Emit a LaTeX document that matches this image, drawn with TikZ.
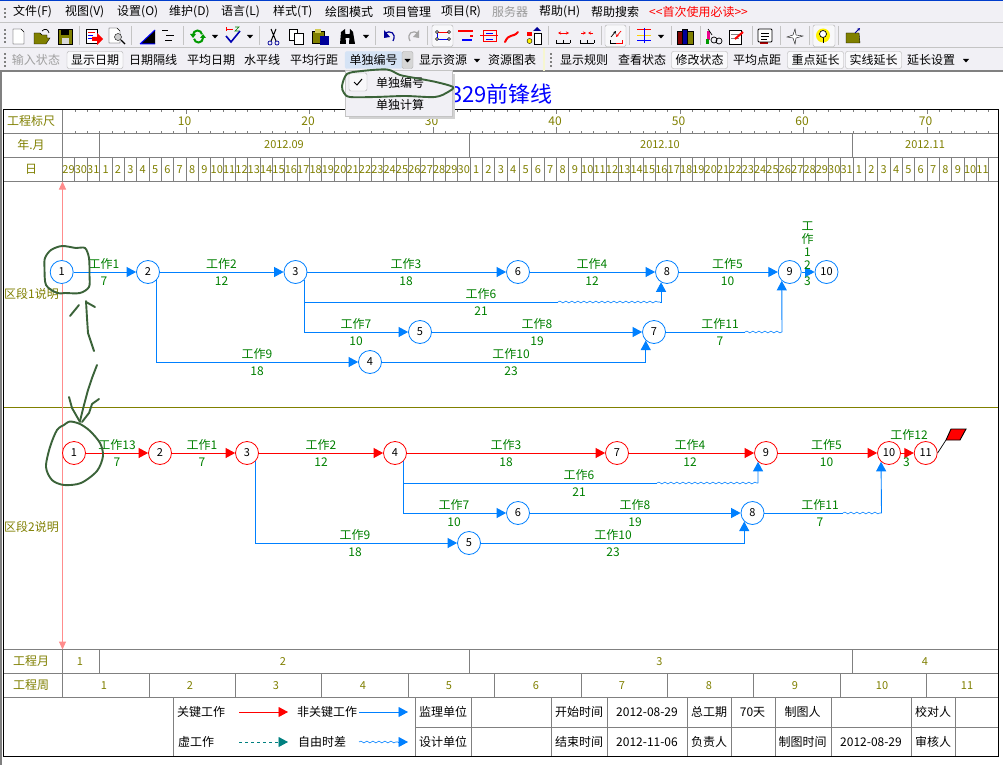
\documentclass[tikz,border=0pt]{standalone}
\usepackage{fontspec}
\setmainfont{Noto Sans CJK SC}
\usetikzlibrary{arrows.meta,decorations.pathmorphing}

\definecolor{barbg}{HTML}{F1F0F5}
\definecolor{barline}{HTML}{C4C4C4}
\definecolor{btnline}{HTML}{AEAEAE}
\definecolor{gridgray}{HTML}{808080}
\definecolor{scaleolive}{HTML}{808000}
\definecolor{linkblue}{HTML}{0080FF}
\definecolor{workgreen}{HTML}{008000}
\definecolor{dummyteal}{HTML}{008080}
\definecolor{pinkaxis}{HTML}{FF8C8C}
\definecolor{handink}{HTML}{3B6339}
\definecolor{hoverblue}{HTML}{D5E3F5}

\tikzset{
  txt/.style={inner sep=0pt,font=\fontsize{12}{14}\selectfont},
  bartext/.style={txt,text=black},
  barbtn/.style={txt,draw=btnline,fill=white!60!barbg,rounded corners=2pt,minimum height=17pt,minimum width=56pt},
  scaletext/.style={txt,text=scaleolive},
  daytext/.style={inner sep=0pt,text=scaleolive,font=\fontsize{11}{13}\selectfont},
  worktext/.style={txt,text=workgreen},
  foottext/.style={txt,text=black},
  grid/.style={draw=gridgray,line width=0.8pt},
  bluenum/.style={circle,draw=linkblue,fill=white,line width=0.8pt,minimum size=23pt,inner sep=0pt,font=\fontsize{11}{13}\selectfont},
  rednum/.style={bluenum,draw=red},
  bluelink/.style={draw=linkblue,line width=0.9pt},
  bluearrow/.style={bluelink,->},
  redarrow/.style={draw=red,line width=0.9pt,->},
  wave/.style={draw=linkblue,line width=0.6pt,decorate,decoration={snake,amplitude=0.9pt,segment length=6pt}},
  ink/.style={draw=handink,line width=1.9pt,line cap=round,line join=round},
}

\begin{document}
\begin{tikzpicture}[x=1pt,y=-1pt,>={Triangle[length=9.5pt,width=10pt]}]
  \useasboundingbox (0,0) rectangle (1003,765);
  \fill[white] (0,0) rectangle (1003,765);

  % window bars
  \fill[barbg] (0,1) rectangle (1003,71);
  \fill[blue!70!cyan!80!black] (0,0) rectangle (1003,1.5);
  \draw[barline,line width=1pt] (0,22.5) -- (1003,22.5) (0,47.5) -- (1003,47.5);
  \draw[gridgray,line width=1.2pt] (0,71) -- (1003,71);
  \draw[gridgray,line width=1.4pt] (1,71) -- (1,765);
  \foreach \y in {8,12,16} \fill[gridgray] (4,\y) rectangle +(2,2);
  \foreach \y in {29,33,37,41} \fill[gridgray] (4,\y) rectangle +(2,2);
  \foreach \y in {53,57,61,65} \fill[gridgray] (4,\y) rectangle +(2,2);
  \foreach \y in {53,57,61,65} \fill[gridgray] (550,\y) rectangle +(2,2);
  \fill[barline!50!yellow!30!white] (543,48) rectangle (545,71);

  % menu bar
  \foreach \x/\t [count=\i] in {13/文件(F),65/视图(V),117/设置(O),169/维护(D),221/语言(L),273/样式(T),325/绘图模式,383/项目管理,441/项目(R),539/帮助(H),591/帮助搜索}
    \node[bartext,anchor=west] (menu\i) at (\x,12) {\t};
  \node[bartext,anchor=west,text=gray!80] (menuserver) at (492,12) {服务器};
  \node[bartext,anchor=west,text=red] (menufirst) at (649,12) {<{}<首次使用必读>{}>};

  % toolbar buttons
  \foreach \xa/\xb in {432/453,605/626,813/835}
    \draw[btnline,fill=white!50!barbg,rounded corners=2pt] (\xa,25) rectangle (\xb,46.5);
  \foreach \x in {79,131,183,259,375,427,548,601,629,671,700,752,780,809,838}
    \draw[barline,line width=1pt] (\x,26) -- (\x,45);
  \foreach \x in {215,250,366,661} \fill (\x-3,35) -- (\x+3,35) -- (\x,38.5) -- cycle;

  % new, open, save
  \draw[fill=white] (13,29) -- (21,29) -- (24,32) -- (24,44) -- (13,44) -- cycle;
  \draw[fill=scaleolive] (34,33) -- (40,33) -- (42,35) -- (47,35) -- (47,38) -- (50,38) -- (46,44) -- (34,44) -- cycle;
  \draw[line width=0.7pt] (42,31) .. controls (45,28) and (48,29) .. (49,33);
  \draw[fill=scaleolive] (58,29) rectangle (72,44);
  \fill[black] (61,29) rectangle (69,35);
  \fill[white!70!gray] (62,38) rectangle (69,44);
  % report, preview
  \draw[fill=white] (86,29) rectangle (97,43);
  \draw[red] (88,32) -- (95,32);
  \draw[blue] (88,35) -- (93,35) (88,38) -- (93,38);
  \fill[red] (92,37) -- (97,37) -- (97,33) -- (103,39) -- (97,45) -- (97,41) -- (92,41) -- cycle;
  \draw[fill=white] (109,28) -- (117,28) -- (120,31) -- (120,43) -- (109,43) -- cycle;
  \draw[fill=gray!40] (118,37) circle (3.5);
  \draw[line width=1.4pt] (121,40) -- (125,44);
  % triangle, lines
  \fill[black] (155,30) -- (155,44) -- (140,44) -- cycle;
  \draw[blue,line width=1pt] (140,44) -- (155,30) (140,44) -- (155,44);
  \draw[line width=0.8pt] (162,30) -- (168,30) (166,35) -- (174,35) (165,40) -- (172,40);
  % refresh, check
  \draw[green!60!black,line width=2pt] (193,35) arc (180:350:4.5) (203,38) arc (0:170:4.5);
  \fill[green!60!black] (190,34) -- (196,34) -- (193,38) -- cycle (200,38) -- (206,38) -- (203,34) -- cycle;
  \draw[blue!70!black,line width=1.6pt] (226,36) -- (231,42) -- (240,31);
  \draw[red,line width=0.7pt] (226,31) -- (226,27) (226,29) -- (233,29);
  \draw[green!50!black,line width=0.7pt] (235,27) -- (239,27) -- (235,31) -- (239,31);
  % scissors, copy, paste
  \draw[blue!60!black,line width=0.7pt] (270,43) circle (2) (277,43) circle (2);
  \draw[line width=1pt] (271,41) -- (276,29) (276,41) -- (271,29);
  \draw[fill=white] (289,29) rectangle (297,40);
  \draw[fill=white] (294,33) rectangle (303,44);
  \draw[fill=scaleolive] (312,31) rectangle (324,43);
  \fill[yellow!60!gray] (315,29) rectangle (321,33);
  \draw[fill=white,blue!60!black] (320,36) rectangle (328,44);
  % binoculars
  \fill[black] (341,32) -- (345,29) -- (346,44) -- (340,44) -- cycle (350,29) -- (353,32) -- (355,44) -- (349,44) -- cycle;
  \fill[black] (345,34) rectangle (350,38);
  % undo, redo
  \draw[blue!60!black,line width=1.2pt] (385,33) .. controls (390,30) and (397,33) .. (393,41);
  \fill[blue!60!black] (384,30) -- (384,38) -- (390,37) -- cycle;
  \draw[gray!70,line width=1.2pt] (418,33) .. controls (413,30) and (406,33) .. (410,41);
  \fill[gray!70] (419,30) -- (419,38) -- (413,37) -- cycle;
  % network views
  \draw[red,line width=0.7pt] (437,32) -- (449,32);
  \draw[blue,line width=0.7pt] (437,39) -- (449,39);
  \draw[blue,line width=0.7pt] (437,32) -- (437,39);
  \foreach \x/\y in {437/32,449/32,437/39,449/39} \draw[fill=white] (\x,\y) circle (1.5);
  \fill[red] (458,30) rectangle (473,32);
  \fill[red] (470,35) rectangle (473,37);
  \fill[blue] (462,39) rectangle (472,41);
  \draw[red,line width=1pt] (483,31) rectangle (496,42) (483,36) -- (496,36) (480,36) -- (483,36) (496,36) -- (498,36);
  \draw[blue,line width=0.7pt] (486,33.5) -- (493,33.5) (486,39) -- (493,39);
  % curve, rule icons
  \draw[red,line width=2pt,line cap=round] (505,42) .. controls (509,33) and (513,38) .. (518,32);
  \fill[red] (527,32) rectangle (532,36);
  \draw[fill=yellow] (529.5,41) circle (2.5);
  \fill[blue!60!black] (533,31) -- (541,31) -- (537,27) -- cycle;
  \draw[fill=white] (534,33) rectangle (541,44);
  \foreach \xa/\xb in {556/570,580/594}
    \draw[line width=0.7pt] (\xa,43) -- (\xb,43) (\xa,40) -- (\xa,43) (\xa+7,40) -- (\xa+7,43) (\xb,40) -- (\xb,43);
  \draw[red,line width=0.7pt,<->,>={Stealth[length=3pt,width=3pt]}] (558,33) -- (569,33);
  \draw[red,line width=0.7pt,->,>={Stealth[length=3pt,width=3pt]}] (581,33) -- (586,33);
  \draw[red,line width=0.7pt,->,>={Stealth[length=3pt,width=3pt]}] (593,33) -- (588,33);
  \draw[line width=0.7pt] (610,43) -- (616,43) (610,40) -- (610,43);
  \draw[red,line width=0.7pt] (616,43) -- (622,43) -- (622,40);
  \draw[line width=0.7pt,->,>={Stealth[length=3pt,width=3pt]}] (611,37) -- (616,31);
  \draw[red,line width=0.7pt,->,>={Stealth[length=3pt,width=3pt]}] (621,31) -- (616,37);
  % coloured lines, books
  \draw[red,line width=1pt] (637,30) -- (651,30);
  \draw[yellow!70!orange,line width=1pt] (637,36) -- (651,36);
  \draw[blue,line width=1pt] (637,41) -- (651,41) (644,28) -- (644,43);
  \draw[fill=red!50!black] (677,31) rectangle (682,44);
  \draw[fill=blue!60!black] (682,29) rectangle (687,44);
  \draw[fill=scaleolive] (687,31) rectangle (693,44);
  % tools, note
  \fill[magenta] (707,31) rectangle (710,40);
  \fill[green!60!black] (706,39) rectangle (709,44);
  \draw[line width=0.7pt] (714,40) circle (3) (719,41) circle (3);
  \draw[line width=0.7pt] (708,29) -- (712,35);
  \draw[fill=white] (729,30) rectangle (741,44);
  \draw[gray,line width=0.7pt] (731,34) -- (739,34) (731,38) -- (739,38);
  \draw[red,line width=2pt] (735,39) -- (743,32);
  % calendar, plane, bulb, folder
  \fill[red!70!black] (760,41) rectangle (768,44);
  \draw[fill=white,line width=0.9pt,rounded corners=1pt] (758,29) rectangle (772,42);
  \draw[line width=0.7pt] (761,33) -- (769,33) (761,36) -- (769,36) (761,39) -- (767,39);
  \draw[fill=white] (795,29) -- (796,35) -- (803,36) -- (796,38) -- (795,44) -- (793,38) -- (787,37) -- (793,35) -- cycle;
  \fill[yellow] (823,35.5) circle (7);
  \draw[fill=white,line width=0.7pt] (823,34) circle (3.5);
  \draw[line width=1pt] (823,38) -- (823,43);
  \draw[fill=scaleolive] (846,33) -- (859,33) -- (860,43) -- (846,43) -- cycle;
  \draw[blue!60!black,line width=0.8pt,->,>={Stealth[length=3pt,width=3pt]}] (855,33) -- (860,28);

  % second bar
  \node[bartext,text=gray!75] (tbinput) at (36,60) {输入状态};
  \node[barbtn] (tbdate) at (95,60) {显示日期};
  \node[barbtn,fill=hoverblue,draw=hoverblue,minimum width=57pt] (tbnum) at (373.5,60) {单独编号};
  \node[barbtn,minimum width=11pt,fill=barline!70] (tbnumdrop) at (407.5,60) {};
  \node[barbtn] (tbmodify) at (699.5,60) {修改状态};
  \node[barbtn] (tbpoint) at (815.5,60) {重点延长};
  \node[barbtn] (tbsolid) at (873.5,60) {实线延长};
  \foreach \x/\t [count=\i] in {153/日期隔线,211/平均日期,262/水平线,314/平均行距,443/显示资源,512/资源图表,584/显示规则,642/查看状态,757/平均点距,931/延长设置}
    \node[bartext] (tb\i) at (\x,60) {\t};
  \foreach \x in {407.5,477,966} \fill (\x-3,59) -- (\x+3,59) -- (\x,62.5) -- cycle;

  % title
  \node[inner sep=0pt,anchor=east,text=blue,font=\fontsize{22}{26}\selectfont] (title) at (553,94) {329前锋线};

  % scale table
  \draw[grid] (3.5,133.5) -- (998,133.5) (3.5,157.5) -- (998,157.5) (3.5,181.5) -- (998,181.5);
  \draw[grid] (3.5,649.5) -- (998,649.5) (3.5,673.5) -- (998,673.5) (3.5,697.5) -- (998,697.5);
  \draw[grid] (62.5,109.5) -- (62.5,181.5) (62.5,649.5) -- (62.5,697.5);
  \foreach \x in {99.5,469.5,852.3} \draw[grid] (\x,133.5) -- (\x,157.5) (\x,649.5) -- (\x,673.5);
  \foreach \i in {1,...,75} {
    \draw[grid,line width=0.6pt] ({62.5+12.35*\i},109.5) -- +(0,3) ({62.5+12.35*\i},133.5) -- +(0,-3);
  }
  \foreach \i in {10,20,...,70} {
    \draw[grid] ({62.5+12.35*\i},109.5) -- +(0,5) ({62.5+12.35*\i},133.5) -- +(0,-6);
    \node[scaletext] (scale\i) at ({62.5+12.35*\i-1.5},121) {\i};
  }
  \foreach \lab [count=\i from 0] in {29,30,31,1,2,...,30,1,2,...,31,1,2,...,11} {
    \draw[grid] ({62.5+12.35*(\i+1)},157.5) -- +(0,24);
    \node[daytext] (day\i) at ({62.5+12.35*\i+6.1},169.5) {\lab};
  }
  \node[scaletext] (rowscale) at (31,121) {工程标尺};
  \node[scaletext] (rowmonth) at (31,145) {年.月};
  \node[scaletext] (rowday) at (31,169) {日};
  \node[scaletext] (rowpm) at (31,661) {工程月};
  \node[scaletext] (rowpw) at (31,685) {工程周};
  \node[daytext] (m09) at (284,145) {2012.09};
  \node[daytext] (m10) at (660,145) {2012.10};
  \node[daytext] (m11) at (925,145) {2012.11};
  \foreach \x/\t [count=\i] in {80/1,283/2,659.5/3,925/4}
    \node[daytext] (pm\i) at (\x,661.5) {\t};
  \foreach \i in {1,...,10} \draw[grid] ({62.5+86.4*\i},673.5) -- +(0,24);
  \foreach \x/\t in {104/1,190/2,276/3,363/4,449/5,536/6,622/7,709/8,795/9,882/10,967/11}
    \node[daytext] (pw\t) at (\x,685.5) {\t};
  \node[scaletext] (zone1) at (31.5,294) {区段1说明};
  \node[scaletext] (zone2) at (31.5,527) {区段2说明};
  \draw[draw=scaleolive,line width=0.8pt] (3.5,407.5) -- (998,407.5);

  % footer
  \draw[grid] (415.5,727.5) -- (998,727.5);
  \foreach \x in {173.5,415.5,471.5,551.5,607.5,687.5,731.5,775.5,831.5,911.5,955.5}
    \draw[grid] (\x,697.5) -- (\x,756);
  \draw[black,line width=1pt] (3.5,109.5) rectangle (998,756);
  \foreach \x/\y/\t [count=\i] in {201/712/关键工作,327/712/非关键工作,322/742/自由时差,443/712/监理单位,443/742/设计单位,579/712/开始时间,579/742/结束时间,647/712/2012-08-29,647/742/2012-11-06,709/712/总工期,709/742/负责人,752.5/712/70天,802.5/712/制图人,802.5/742/制图时间,871/742/2012-08-29,933/712/校对人,933/742/审核人}
    \node[foottext] (foot\i) at (\x,\y) {\t};
  \node[foottext,anchor=west] (footdummy) at (178,742) {虚工作};
  \coordinate (keyred) at (239,712);      \coordinate (keyredend) at (288,712);
  \coordinate (keyblue) at (359,712);     \coordinate (keyblueend) at (408,712);
  \coordinate (keydash) at (239,742);     \coordinate (keydashend) at (288,742);
  \coordinate (keywave) at (359,742);     \coordinate (keywaveend) at (398,742);
  \coordinate (keywavetip) at (408,742);
  \draw[redarrow] (keyred) -- (keyredend);
  \draw[bluearrow] (keyblue) -- (keyblueend);
  \draw[draw=dummyteal,line width=0.9pt,dashed,->,>={Triangle[length=9.5pt,width=10pt]}] (keydash) -- (keydashend);
  \draw[wave] (keywave) -- (keywaveend);
  \draw[bluearrow] (keywaveend) -- (keywavetip);

  % time axis
  \coordinate (axistop) at (62.5,181.5);
  \coordinate (axisbottom) at (62.5,649.5);
  \draw[draw=pinkaxis,line width=1pt,<->,>={Triangle[length=8pt,width=7pt]}] (axistop) -- (axisbottom);

  % zone 1
  \node[bluenum] (a1) at (61.7,272) {1};
  \node[bluenum] (a2) at (148,272) {2};
  \node[bluenum] (a3) at (295.5,272) {3};
  \node[bluenum] (a6) at (518,272) {6};
  \node[bluenum] (a8) at (667,272) {8};
  \node[bluenum] (a9) at (789.7,272) {9};
  \node[bluenum] (a10) at (826.5,272) {10};
  \node[bluenum] (a5) at (420,332) {5};
  \node[bluenum] (a7) at (654,332) {7};
  \node[bluenum] (a4) at (370,362) {4};
  \coordinate (a6w) at (558,302);  \coordinate (a6e) at (660,302);
  \coordinate (a11w) at (745,332); \coordinate (a11e) at (782,332);
  \foreach \s/\e in {a1/a2,a2/a3,a3/a6,a6/a8,a8/a9,a9/a10,a5/a7}
    \draw[bluearrow] (\s) -- (\e);
  \draw[bluelink] (a3.-42) |- (a6w);
  \draw[wave] (a6w) -- (a6e);
  \draw[bluearrow] (a6e) -| (a8.240);
  \draw[bluearrow] (a3.-42) |- (a5);
  \draw[bluelink] (a7) -- (a11w);
  \draw[wave] (a11w) -- (a11e);
  \draw[bluearrow] (a11e) -- (a9.228);
  \draw[bluearrow] (a2.-42) |- (a4);
  \draw[bluearrow] (a4) -| (a7.226);
  \foreach \x/\y/\t/\d in {104/264/1/7,221.5/264/2/12,406/264/3/18,592/264/4/12,727.5/264/5/10,481/294/6/21,356/324/7/10,537/324/8/19,720/324/11/7,257/354/9/18,511/354/10/23} {
    \node[worktext] (awork\t) at (\x,\y) {工作\t};
    \node[worktext] (aspan\t) at (\x,\y+17.5) {\d};
  }
  \node[worktext,align=center,anchor=north,font=\fontsize{12}{13}\selectfont] (awork12) at (807.5,222) {工\\作\\1\\2\\[3pt]3};

  % zone 2
  \node[rednum] (b1) at (74,453) {1};
  \node[rednum] (b2) at (160,453) {2};
  \node[rednum] (b3) at (247,453) {3};
  \node[rednum] (b4) at (395,453) {4};
  \node[rednum] (b7) at (617,453) {7};
  \node[rednum] (b9) at (766,453) {9};
  \node[rednum] (b10) at (889,453) {10};
  \node[rednum] (b11) at (925.7,453) {11};
  \node[bluenum] (b6) at (518,513) {6};
  \node[bluenum] (b8) at (752.5,513) {8};
  \node[bluenum] (b5) at (469,543) {5};
  \coordinate (b6w) at (657,483);  \coordinate (b6e) at (758,483);
  \coordinate (b11w) at (843,513); \coordinate (b11e) at (881.5,513);
  \coordinate (flagfoot) at (946,440);
  \foreach \s/\e in {b1/b2,b2/b3,b3/b4,b4/b7,b7/b9,b9/b10,b10/b11}
    \draw[redarrow] (\s) -- (\e);
  \draw[bluelink] (b4.-42) |- (b6w);
  \draw[wave] (b6w) -- (b6e);
  \draw[bluearrow] (b6e) -- (b9.228);
  \draw[bluearrow] (b4.-42) |- (b6);
  \draw[bluearrow] (b6) -- (b8);
  \draw[bluelink] (b8) -- (b11w);
  \draw[wave] (b11w) -- (b11e);
  \draw[bluearrow] (b11e) -- (b10.228);
  \draw[bluearrow] (b3.-42) |- (b5);
  \draw[bluearrow] (b5) -| (b8.226);
  \foreach \x/\y/\t/\d in {117/445/13/7,202/445/1/7,321/445/2/12,506/445/3/18,690/445/4/12,826.5/445/5/10,579/475/6/21,454/505/7/10,635/505/8/19,820/505/11/7,355/535/9/18,613/535/10/23} {
    \node[worktext] (bwork\t) at (\x,\y) {工作\t};
    \node[worktext] (bspan\t) at (\x,\y+17.5) {\d};
  }
  \node[worktext] (bwork12) at (909,435) {工作12};
  \node[worktext] (bspan12) at (906.5,462) {3};
  \draw[line width=0.7pt] (b11.east) -- (flagfoot);
  \draw[fill=red,line width=0.9pt] (flagfoot) -- (960,440) -- (966,429) -- (951,429) -- cycle;

  % drop-down menu
  \fill[gray!35] (349,74) rectangle (455,119);
  \draw[barline,fill=barbg] (345,70) rectangle (452,116);
  \draw[btnline,fill=white!50!barbg,rounded corners=2pt] (349,73) rectangle (367,91);
  \draw[line width=1pt] (354,82) -- (357,85) -- (362,79);
  \node[bartext] (popnum) at (400,83) {单独编号};
  \node[bartext] (popcalc) at (400,104.5) {单独计算};

  % marks made by hand over the screenshot
  \draw[ink] plot[smooth cycle,tension=0.5] coordinates {(347,74) (362,71) (387,69.5) (400,75) (415,78) (436,82) (453,87) (448,92) (435,97) (405,96) (375,97) (350,97) (344,93) (342,86)};
  \draw[ink] plot[smooth cycle,tension=0.5] coordinates {(51,250) (62,246) (76,248) (85,248) (89,258) (89.5,275) (89,287) (80,293) (65,293) (57,293) (46,285) (44.5,268) (45,258)};
  \draw[ink] (86,301) -- (87,318) -- (88,333) -- (94,351);
  \draw[ink] (86,302) -- (95,307);
  \draw[ink] (79,305) -- (70,316);
  \draw[ink] (97,365) -- (92,378) -- (88,390) -- (84,405) -- (80,421);
  \draw[ink] (69,397) -- (72,408) -- (80,422);
  \draw[ink] (99,399) -- (92,404) -- (89,413) -- (82,422);
  \draw[ink] plot[smooth,tension=0.5] coordinates {(64,425) (70,421.5) (80,424) (90,431) (100,443) (103,456) (97,471) (81,483) (64,485) (52,480) (46,467) (50,447) (57,430) (64,425)};
\end{tikzpicture}
\end{document}
